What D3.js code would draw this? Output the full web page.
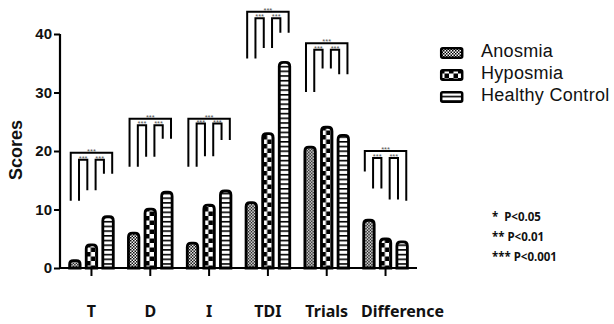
<!DOCTYPE html>
<html>
<head>
<meta charset="utf-8">
<script src="https://cdn.jsdelivr.net/npm/d3@7"></script>
<style>
    body { margin: 0; background: #fff; }
    svg { display: block; }
    text { white-space: pre; }
</style>
</head>
<body>
<div id="chart"></div>
<script>
const categories = ["T", "D", "I", "TDI", "Trials", "Difference"];
const series = ["Anosmia", "Hyposmia", "Healthy Control"];
const anosmia = [1.5, 6.2, 4.5, 11.4, 20.9, 8.4];
const hyposmia = [4.2, 10.3, 11.0, 23.2, 24.3, 5.2];
const healthy = [9.0, 13.2, 13.4, 35.4, 22.9, 4.7];
const yTicks = [0, 10, 20, 30, 40];

// significance brackets, in score units
const outerTop = [19.7, 25.5, 25.5, 43.8, 38.4, 20.0];
const innerTop = [18.5, 24.4, 24.7, 42.7, 37.3, 18.8];
// leg ends: outer left, inner1 left, inner1 right, inner2 left, inner2 right, outer right
const legEnds = [
    [11.5, 11.5, 13.3, 13.3, 16.1, 16.1],
    [17.3, 17.3, 19.0, 19.0, 22.1, 22.1],
    [17.3, 17.3, 19.1, 19.1, 21.9, 21.9],
    [35.8, 35.8, 37.6, 37.6, 40.2, 40.2],
    [30.1, 30.1, 34.1, 34.1, 33.1, 33.1],
    [16.5, 13.6, 13.6, 11.7, 11.7, 11.5],
];
const starLabel = "***";
const pLabels = ["*  P<0.05", "** P<0.01", "*** P<0.001"];

const values = [anosmia, hyposmia, healthy];
const width = 614, height = 324;

const svg = d3.select("#chart").append("svg")
    .attr("width", width)
    .attr("height", height);

// patterns
const defs = svg.append("defs");
const pAn = defs.append("pattern").attr("id", "pat0")
    .attr("patternUnits", "userSpaceOnUse").attr("width", 3).attr("height", 3);
pAn.append("rect").attr("width", 3).attr("height", 3).attr("fill", "#fff");
pAn.append("rect").attr("width", 1.5).attr("height", 1.5).attr("fill", "#000");
pAn.append("rect").attr("x", 1.5).attr("y", 1.5).attr("width", 1.5).attr("height", 1.5).attr("fill", "#000");

const pHy = defs.append("pattern").attr("id", "pat1")
    .attr("patternUnits", "userSpaceOnUse").attr("width", 9).attr("height", 9);
pHy.append("rect").attr("width", 9).attr("height", 9).attr("fill", "#fff");
pHy.append("rect").attr("width", 4.5).attr("height", 4.5).attr("fill", "#000");
pHy.append("rect").attr("x", 4.5).attr("y", 4.5).attr("width", 4.5).attr("height", 4.5).attr("fill", "#000");

const pHc = defs.append("pattern").attr("id", "pat2")
    .attr("patternUnits", "userSpaceOnUse").attr("width", 6).attr("height", 4.7);
pHc.append("rect").attr("width", 6).attr("height", 4.7).attr("fill", "#fff");
pHc.append("rect").attr("width", 6).attr("height", 1.6).attr("fill", "#000");

const x0 = d3.scaleBand()
    .domain(categories)
    .range([60, 417])
    .paddingInner(0.21)
    .paddingOuter(0.14);

const x1 = d3.scaleBand()
    .domain(series)
    .range([0, x0.bandwidth()])
    .paddingInner(0.2);

const y = d3.scaleLinear().domain([0, 40]).range([268, 34]);

// bars with rounded tops
const sw = 2.8, r = 4;
function barPath(x, w, v) {
    const l = x + sw / 2, rr = x + w - sw / 2, b = y(0), t = y(v) + sw / 2;
    const rad = Math.min(r, (b - t) / 2, (rr - l) / 2);
    return `M${l},${b}L${l},${t + rad}Q${l},${t} ${l + rad},${t}L${rr - rad},${t}Q${rr},${t} ${rr},${t + rad}L${rr},${b}Z`;
}

const groups = svg.append("g").selectAll("g")
    .data(categories)
    .join("g")
    .attr("transform", (d) => `translate(${x0(d)},0)`);

groups.selectAll("path")
    .data((d, i) => series.map((s, k) => ({ s, k, v: values[k][i] })))
    .join("path")
    .attr("d", (d) => barPath(x1(d.s), x1.bandwidth(), d.v))
    .attr("fill", (d) => `url(#pat${d.k})`)
    .attr("stroke", "#000")
    .attr("stroke-width", sw);

// brackets
const legInset = 2.5;
groups.each(function (cat, i) {
    const g = d3.select(this);
    const legX = [];
    series.forEach((s) => {
        legX.push(x1(s) + legInset, x1(s) + x1.bandwidth() - legInset);
    });
    const ends = legEnds[i];
    const drawBracket = (a, b, top) => {
        g.append("path")
            .attr("d", `M${legX[a]},${y(ends[a])}L${legX[a]},${y(top)}L${legX[b]},${y(top)}L${legX[b]},${y(ends[b])}`)
            .attr("fill", "none")
            .attr("stroke", "#000")
            .attr("stroke-width", 2);
        g.append("text")
            .attr("x", (legX[a] + legX[b]) / 2)
            .attr("y", y(top) + 1)
            .attr("text-anchor", "middle")
            .attr("font-family", "Liberation Sans, Arial, sans-serif")
            .attr("font-size", 7.5)
            .attr("fill", "#555")
            .text(starLabel);
    };
    drawBracket(0, 5, outerTop[i]);
    drawBracket(1, 2, innerTop[i]);
    drawBracket(3, 4, innerTop[i]);
});

// axes
const yAxis = svg.append("g")
    .attr("transform", "translate(60,0)")
    .call(d3.axisLeft(y).tickValues(yTicks).tickSize(6).tickPadding(2));
yAxis.select(".domain").attr("stroke-width", 2.2).attr("d", `M0,${y(40)}V${y(0)}`);
yAxis.selectAll(".tick line").attr("stroke-width", 2);
yAxis.selectAll("text")
    .attr("font-family", "Liberation Sans, Arial, sans-serif")
    .attr("font-weight", "bold")
    .attr("font-size", 15)
    .attr("fill", "#111");

const xAxis = svg.append("g")
    .attr("transform", `translate(0,${y(0)})`)
    .call(d3.axisBottom(x0).tickSize(8).tickPadding(30));
xAxis.select(".domain").attr("stroke-width", 2.2).attr("d", "M60,0H417");
xAxis.selectAll(".tick line").attr("stroke-width", 2);
xAxis.selectAll("text")
    .attr("font-family", "Noto Sans, Open Sans, sans-serif")
    .attr("font-weight", "bold")
    .attr("font-size", 16)
    .attr("fill", "#111")
    .attr("dx", (d) => (d === "Difference" ? 17 : 0));

svg.append("text")
    .attr("transform", "translate(22,150) rotate(-90)")
    .attr("text-anchor", "middle")
    .attr("font-family", "Liberation Sans, Arial, sans-serif")
    .attr("font-weight", "bold")
    .attr("font-size", 18)
    .attr("fill", "#111")
    .text("Scores");

// legend
const legend = svg.append("g").attr("transform", "translate(440,47)");
series.forEach((s, k) => {
    const row = legend.append("g").attr("transform", `translate(0,${k * 22})`);
    row.append("rect")
        .attr("x", 1.2).attr("y", 1.2)
        .attr("width", 21).attr("height", 9.5)
        .attr("rx", 1.5)
        .attr("fill", `url(#pat${k})`)
        .attr("stroke", "#000")
        .attr("stroke-width", 2.5);
    row.append("text")
        .attr("x", 41).attr("y", 10)
        .attr("font-family", "Liberation Sans, Arial, sans-serif")
        .attr("font-size", 18)
        .attr("letter-spacing", 0.3)
        .attr("fill", "#111")
        .text(s);
});

// p-value key
svg.append("g").selectAll("text")
    .data(pLabels)
    .join("text")
    .attr("x", 492)
    .attr("y", (d, i) => 221 + i * 20)
    .attr("font-family", "Noto Sans, Open Sans, sans-serif")
    .attr("font-weight", "bold")
    .attr("font-size", 11.5)
    .attr("fill", "#111")
    .text((d) => d);
</script>
</body>
</html>
